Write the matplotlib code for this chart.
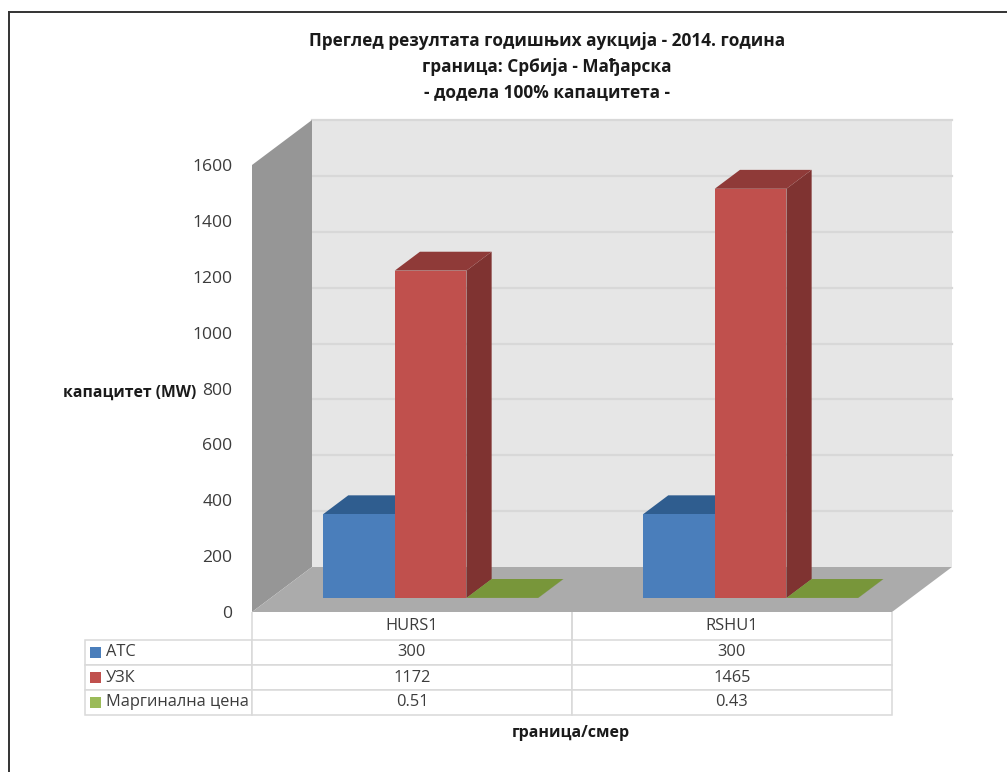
import matplotlib
matplotlib.use("Agg")
import matplotlib.pyplot as plt
from matplotlib.patches import Polygon, Rectangle
from matplotlib.lines import Line2D

W, H = 1007, 772
categories = ["HURS1", "RSHU1"]
series_names = ["АТС", "УЗК", "Маргинална цена"]
atc = [300, 300]
uzk = [1172, 1465]
price = [0.51, 0.43]
table_atc = ["300", "300"]
table_uzk = ["1172", "1465"]
table_price = ["0.51", "0.43"]
y_ticks = [0, 200, 400, 600, 800, 1000, 1200, 1400, 1600]
title = ("Преглед резултата годишњих аукција - 2014. година\n"
         "граница: Србија - Мађарска\n- додела 100% капацитета -")

plt.rcParams['font.family'] = ['Open Sans', 'DejaVu Sans']
TEXT = '#3c3c3c'
fig = plt.figure(figsize=(W / 100, H / 100), dpi=100, facecolor='white')

# frame of the page
L, R, TOP, BOT = 252, 892, 165, 612
ax = fig.add_axes([L / W, 1 - BOT / H, (R - L) / W, (BOT - TOP) / H])
ax.set_xlim(0, 2)
ax.set_ylim(0, 1600)
for s in ax.spines.values():
    s.set_visible(False)
ax.patch.set_visible(False)

# oblique projection: depth 0 = front plane, depth 1 = back wall
DX = 60 / 320
DV = 45 / (447 / 1600)


def pr(x, v, d):
    return (x + d * DX, v + d * DV)


def face(points, color, z):
    ax.add_patch(Polygon([pr(*p) for p in points], closed=True, facecolor=color,
                         edgecolor='none', clip_on=False, zorder=z))


# walls and floor
face([(0, 0, 1), (2, 0, 1), (2, 1600, 1), (0, 1600, 1)], '#e6e6e6', 1)
face([(0, 0, 0), (0, 0, 1), (0, 1600, 1), (0, 1600, 0)], '#969696', 2)
face([(0, 0, 0), (2, 0, 0), (2, 0, 1), (0, 0, 1)], '#ababab', 2)
for t in y_ticks[1:]:
    a = pr(0, t, 1)
    b = pr(2, t, 1)
    ax.add_line(Line2D([a[0], b[0]], [a[1], b[1]], color='#d8d8d8', lw=1.6,
                       clip_on=False, zorder=1.5))

# bars
BW = 71.7 / 320
D0, D1 = 0.31, 0.73
palette = [('#4a7ebb', '#2f5d8f', '#2a527f'),
           ('#c0504d', '#8f3a38', '#7f3331'),
           ('#7f9f3f', '#78963a', '#64802f')]
for c in range(2):
    x0 = c + 0.5 - 1.5 * BW
    for s, vals in enumerate([atc, uzk, price]):
        v = vals[c]
        a, b = x0 + s * BW, x0 + (s + 1) * BW
        front, top, side = palette[s]
        z = 3 + s * 0.1 + c
        face([(b, 0, D0), (b, 0, D1), (b, v, D1), (b, v, D0)], side, z)
        face([(a, v, D0), (b, v, D0), (b, v, D1), (a, v, D1)], top, z)
        face([(a, 0, D0), (b, 0, D0), (b, v, D0), (a, v, D0)], front, z)

# axes
ax.set_xticks([])
ax.set_yticks(y_ticks)
ax.tick_params(axis='y', length=0, pad=14, labelsize=12.6, labelcolor=TEXT)
ax.set_ylabel("капацитет (MW)", rotation=0, fontweight='bold', fontsize=11.3,
              color='#1a1a1a', ha='center', va='center')
ax.yaxis.set_label_coords((129.5 - L) / (R - L), (BOT - 393) / (BOT - TOP))
ax.set_xlabel("граница/смер", fontweight='bold', fontsize=11.5, color='#1a1a1a',
              ha='center', va='center')
ax.xaxis.set_label_coords((571 - L) / (R - L), (BOT - 733) / (BOT - TOP))

# data table below the plot: bbox covers the grid, row labels extend to the left
T_L, T_B = 85, 715
row_label_w = (L - T_L) / (R - L)
tb = ax.table(cellText=[table_atc, table_uzk, table_price],
              colLabels=categories, colWidths=[0.5, 0.5],
              cellLoc='center', colLoc='center',
              bbox=[0, (BOT - T_B) / (BOT - TOP), 1, (T_B - BOT) / (BOT - TOP)])
tb.auto_set_font_size(False)
for i, name in enumerate(series_names):
    tb.add_cell(i + 1, -1, width=row_label_w, height=0.1, text=name, loc='left')
hts = [28, 25, 25, 25]
for (r, col), cell in tb.get_celld().items():
    cell.set_edgecolor('#d9d9d9')
    cell.set_linewidth(1.1)
    cell.get_text().set_color(TEXT)
    cell.get_text().set_fontsize(11.8)
    cell.set_height(hts[r] / (T_B - BOT))
    if col == -1:
        cell.PAD = 21 / (L - T_L)
    if r == 0:
        cell.visible_edges = 'LR'

# legend keys in the table
for i in range(3):
    yc = 652.5 + 25 * i
    ax.add_patch(Rectangle(((90 - L) / (R - L), (BOT - yc - 5.5) / (BOT - TOP)),
                           11 / (R - L), 11 / (BOT - TOP), transform=ax.transAxes,
                           facecolor=['#4a7ebb', '#c0504d', '#9bbb59'][i],
                           edgecolor='none', clip_on=False, zorder=10))

fig.text(547 / W, 1 - 67 / H, title, ha='center', va='center', fontweight='bold',
         fontsize=12.4, color='#1a1a1a', linespacing=1.55)

# page rule at top and left
fig.add_artist(Line2D([9 / W, 9 / W], [0, 1 - 11.5 / H], color='#333333', lw=1.4))
fig.add_artist(Line2D([9 / W, 1], [1 - 11.5 / H, 1 - 11.5 / H], color='#333333', lw=1.4))

fig.savefig('out.png', dpi=100)
